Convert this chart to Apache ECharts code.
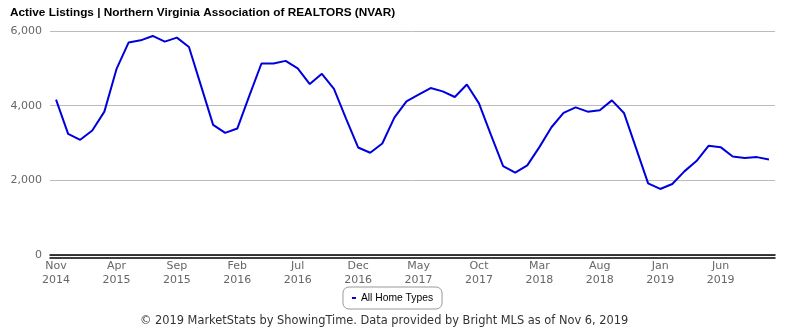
<!DOCTYPE html>
<html>
<head>
<meta charset="utf-8">
<script src="https://cdn.jsdelivr.net/npm/echarts@6/dist/echarts.min.js"></script>
<style>
  html, body { margin: 0; padding: 0; background: #fff; }
  #chart { width: 785px; height: 330px; }
</style>
</head>
<body>
<div id="chart"></div>
<script>
// Monthly active listings, Nov 2014 – Oct 2019
const months = [
  'Nov\n2014','Dec\n2014','Jan\n2015','Feb\n2015','Mar\n2015','Apr\n2015','May\n2015','Jun\n2015','Jul\n2015','Aug\n2015','Sep\n2015','Oct\n2015',
  'Nov\n2015','Dec\n2015','Jan\n2016','Feb\n2016','Mar\n2016','Apr\n2016','May\n2016','Jun\n2016','Jul\n2016','Aug\n2016','Sep\n2016','Oct\n2016',
  'Nov\n2016','Dec\n2016','Jan\n2017','Feb\n2017','Mar\n2017','Apr\n2017','May\n2017','Jun\n2017','Jul\n2017','Aug\n2017','Sep\n2017','Oct\n2017',
  'Nov\n2017','Dec\n2017','Jan\n2018','Feb\n2018','Mar\n2018','Apr\n2018','May\n2018','Jun\n2018','Jul\n2018','Aug\n2018','Sep\n2018','Oct\n2018',
  'Nov\n2018','Dec\n2018','Jan\n2019','Feb\n2019','Mar\n2019','Apr\n2019','May\n2019','Jun\n2019','Jul\n2019','Aug\n2019','Sep\n2019','Oct\n2019'
];

const allHomeTypes = [
  4160, 3245, 3085, 3333, 3840, 4978, 5690, 5750, 5867, 5715, 5822, 5573,
  4530, 3485, 3271, 3387, 4267, 5129, 5129, 5200, 5000, 4578, 4853, 4453,
  3653, 2880, 2738, 2987, 3680, 4115, 4293, 4472, 4382, 4232, 4568, 4062,
  3209, 2382, 2204, 2400, 2890, 3422, 3805, 3955, 3840, 3875, 4142, 3805,
  2862, 1920, 1769, 1902, 2240, 2516, 2925, 2889, 2640, 2596, 2622, 2560
];

const yTicks = [0, 2000, 4000, 6000];

const titleText = 'Active Listings | Northern Virginia Association of REALTORS (NVAR)';
const footerText = '\u00A9 2019 MarketStats by ShowingTime. Data provided by Bright MLS as of Nov 6, 2019';
const seriesName = 'All Home Types';

const chart = echarts.init(document.getElementById('chart'), null, { renderer: 'canvas' });

const axisFont = { fontFamily: 'DejaVu Sans', fontSize: 11, color: '#666' };

chart.setOption({
  animation: false,
  backgroundColor: '#fff',
  title: [
    {
      text: titleText,
      left: 5, top: 2,
      textStyle: { fontFamily: 'Liberation Sans', fontWeight: 'bold', fontSize: 11.8, color: '#000' }
    },
    {
      text: footerText,
      left: 135, top: 311,
      textStyle: { fontFamily: 'DejaVu Sans', fontWeight: 'normal', fontSize: 11.4, color: '#333' }
    }
  ],
  legend: {
    data: [seriesName],
    left: 'center', top: 287,
    icon: 'rect', itemWidth: 4, itemHeight: 2, itemGap: 5,
    padding: [6, 9, 6, 9],
    borderColor: '#999', borderWidth: 1, borderRadius: 6,
    textStyle: { fontFamily: 'Liberation Sans', fontSize: 10.3, color: '#000' }
  },
  grid: { left: 50, right: 10, top: 31, bottom: 75, containLabel: false },
  xAxis: [
    {
      type: 'category',
      data: months,
      boundaryGap: true,
      axisLine: { show: true, lineStyle: { color: '#000', width: 1.5 } },
      axisTick: { show: false },
      axisLabel: { ...axisFont, interval: 4, margin: 4, lineHeight: 14 },
      splitLine: { show: false }
    },
    {
      type: 'category',
      data: months,
      position: 'bottom',
      offset: 3,
      boundaryGap: true,
      axisLine: { show: true, lineStyle: { color: '#000', width: 1.5 } },
      axisTick: { show: false },
      axisLabel: { show: false },
      splitLine: { show: false }
    }
  ],
  yAxis: {
    type: 'value',
    min: yTicks[0], max: yTicks[yTicks.length - 1], interval: 2000,
    axisLine: { show: false },
    axisTick: { show: false },
    axisLabel: {
      ...axisFont, margin: 8,
      formatter: v => v.toLocaleString('en-US')
    },
    splitLine: { lineStyle: { color: '#bbb', width: 1 } }
  },
  series: [
    {
      name: seriesName,
      type: 'line',
      data: allHomeTypes,
      xAxisIndex: 0,
      showSymbol: false,
      symbol: 'none',
      lineStyle: { color: '#0000dd', width: 2 },
      itemStyle: { color: '#0000dd' },
      emphasis: { disabled: true }
    }
  ]
});
</script>
</body>
</html>
